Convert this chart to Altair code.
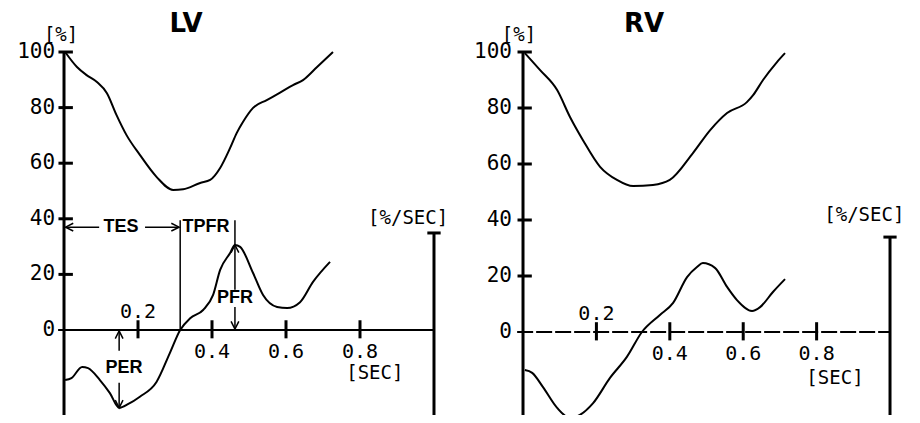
import altair as alt
import pandas as pd

# ---------------- data ----------------
# LV: volume curve [%] and rate curve [%/SEC] vs time [SEC]
lv_vol_t = [0.003, 0.035, 0.061, 0.089, 0.116, 0.142, 0.169, 0.205, 0.25, 0.295, 0.322, 0.368,
            0.395, 0.422, 0.449, 0.467, 0.484, 0.511, 0.548, 0.584, 0.619, 0.646, 0.684, 0.727]
lv_vol_v = [100, 94.6, 91.7, 89.2, 85.2, 77.3, 70.1, 63, 55.1, 50.4, 50.6, 52.9,
            54, 58.3, 65.5, 70.9, 74.9, 79.9, 82.7, 85.4, 88.1, 89.9, 94.6, 100]
lv_rate_t = [0.003, 0.02, 0.049, 0.065, 0.097, 0.124, 0.149, 0.174, 0.205, 0.25, 0.286, 0.314, 0.341,
             0.376, 0.403, 0.422, 0.449, 0.462, 0.476, 0.511, 0.538, 0.576, 0.603, 0.638, 0.673, 0.719]
lv_rate_v = [-18, -17.3, -13.3, -13.7, -18, -22.7, -28, -26.6, -24, -18.7, -8.3, 0, 4.2,
             7.2, 12.6, 21.6, 27.7, 30.6, 29.9, 20.5, 12.6, 8.3, 7.9, 10, 17.3, 24.5]

# RV
rv_vol_t = [0.005, 0.046, 0.093, 0.128, 0.163, 0.21, 0.256, 0.3, 0.354, 0.4, 0.463, 0.51,
            0.556, 0.61, 0.627, 0.654, 0.692, 0.714]
rv_vol_v = [99.6, 93.6, 86.4, 76.8, 68.6, 59, 54.3, 52.1, 52.5, 54.3, 63.9, 72.1,
            78.2, 82.1, 84.6, 90, 96.4, 99.6]
rv_rate_t = [0.005, 0.025, 0.054, 0.093, 0.128, 0.155, 0.191, 0.237, 0.283, 0.324, 0.373,
             0.409, 0.447, 0.474, 0.49, 0.523, 0.556, 0.583, 0.624, 0.646, 0.681, 0.714]
rv_rate_v = [-13.6, -14.6, -19.6, -27.1, -30.7, -29.6, -25.4, -16.4, -8.9, 0, 6.1,
             10.4, 19.6, 23.2, 24.6, 22.9, 16.1, 11.4, 7.5, 8.9, 14.3, 18.9]

# axes
y_ticks = [100, 80, 60, 40, 20, 0]
y_labels = ["100", "80", "60", "40", "20", "0"]
x_ticks = [0.2, 0.4, 0.6, 0.8]
x_labels = ["0.2", "0.4", "0.6", "0.8"]

# LV indices
tes = 0.314        # end-systole time
tpfr = 0.462       # time of peak filling rate
pfr = 30.6         # peak filling rate
per_t = 0.149      # time of peak ejection rate
per = -28.0        # peak ejection rate

MONO = "DejaVu Sans Mono"
SANS = "Liberation Sans"


def panel(title, vol_t, vol_v, rate_t, rate_v, xdom, ydom, lab_dt, ax_bottom, bar_top,
          bar_bottom, dashed, units, annotate):
    xs = alt.Scale(domain=xdom, nice=False, zero=False)
    ys = alt.Scale(domain=ydom, nice=False, zero=False)
    X = alt.X("t:Q", scale=xs, axis=None)
    Y = alt.Y("v:Q", scale=ys, axis=None)

    curves = pd.DataFrame({
        "t": vol_t + rate_t,
        "v": vol_v + rate_v,
        "s": ["vol"] * len(vol_t) + ["rate"] * len(rate_t),
        "i": list(range(len(vol_t))) + list(range(len(rate_t))),
    })
    lines = alt.Chart(curves).mark_line(color="black", strokeWidth=2, clip=True,
                                        interpolate="monotone").encode(
        x=X, y=Y, detail="s:N", order="i:Q")

    # thick axis pieces
    segs = [(0, 0, ax_bottom, 100), (-0.015, 0.015, ax_bottom, ax_bottom)]
    for yt in y_ticks[:-1]:
        segs.append((-0.015, 0.024, yt, yt))
    for xt in x_ticks:
        segs.append((xt, xt, -3.0, 3.5))
    segs += [(1, 1, bar_bottom, bar_top), (0.982, 1.018, bar_top, bar_top),
             (0.982, 1.018, bar_bottom, bar_bottom)]
    sdf = pd.DataFrame(segs, columns=["t", "t2", "v", "v2"])
    thick = alt.Chart(sdf).mark_rule(color="black", strokeWidth=3, clip=True).encode(
        x=X, x2="t2:Q", y=Y, y2="v2:Q")

    xaxis_df = pd.DataFrame({"t": [-0.016], "t2": [1.0], "v": [0.0]})
    xa_kw = dict(color="black", strokeWidth=2, clip=True)
    if dashed:
        xa_kw["strokeDash"] = [16, 3]
    xaxis = alt.Chart(xaxis_df).mark_rule(**xa_kw).encode(x=X, x2="t2:Q", y=Y)

    ylab = pd.DataFrame({"t": [lab_dt] * len(y_ticks), "v": y_ticks, "txt": y_labels})
    ytext = alt.Chart(ylab).mark_text(font=MONO, fontSize=21, align="right", baseline="middle",
                                      color="black").encode(x=X, y=Y, text="txt:N")

    xlab = pd.DataFrame({"t": x_ticks, "v": [6.6] + [-7.9] * (len(x_ticks) - 1), "txt": x_labels})
    xtext = alt.Chart(xlab).mark_text(font=MONO, fontSize=20, align="center", baseline="middle",
                                      color="black").encode(x=X, y=Y, text="txt:N")

    udf = pd.DataFrame(units, columns=["t", "v", "txt"])
    utext = alt.Chart(udf).mark_text(font=MONO, fontSize=19, align="center", baseline="middle",
                                     color="black").encode(x=X, y=Y, text="txt:N")

    tdf = pd.DataFrame({"t": [0.33], "v": [110.0], "txt": [title]})
    ttext = alt.Chart(tdf).mark_text(font="DejaVu Sans", fontWeight="bold", fontSize=26,
                                     align="center", baseline="middle", color="black").encode(
        x=X, y=Y, text="txt:N")

    layers = [lines, thick, xaxis, ytext, xtext, utext, ttext]

    if annotate:
        a_segs = pd.DataFrame([
            (0.005, 0.095, 37.0, 37.0),
            (0.219, tes - 0.004, 37.0, 37.0),
            (tes, tes, 0.0, 39.5),
            (tpfr, tpfr, 14.5, 39.5),
            (tpfr, tpfr, 0.3, 8.3),
            (per_t, per_t, -0.3, -7.5),
            (per_t, per_t, -19.0, per + 0.2),
        ], columns=["t", "t2", "v", "v2"])
        thin = alt.Chart(a_segs).mark_rule(color="black", strokeWidth=1.5).encode(
            x=X, x2="t2:Q", y=Y, y2="v2:Q")
        heads = pd.DataFrame([
            (0.004, 37.0, 180), (tes - 0.003, 37.0, 0),
            (tpfr, pfr, 270), (tpfr, 0.3, 90),
            (per_t, -0.3, 270), (per_t, per, 90),
        ], columns=["t", "v", "a"])
        arrows = alt.Chart(heads).mark_point(
            shape="M-1,-0.5L0,0L-1,0.5", filled=False, color="black", strokeWidth=1.5,
            size=240, opacity=1).encode(x=X, y=Y, angle=alt.Angle("a:Q", scale=None))
        lab = pd.DataFrame([
            (0.154, 37.0, "TES"), (0.384, 37.0, "TPFR"),
            (tpfr, 11.5, "PFR"), (0.162, -13.7, "PER"),
        ], columns=["t", "v", "txt"])
        atext = alt.Chart(lab).mark_text(font=SANS, fontSize=18, fontWeight="bold",
                                         align="center", baseline="middle",
                                         color="black").encode(x=X, y=Y, text="txt:N")
        layers += [thin, arrows, atext]

    return alt.layer(*layers).properties(width=452, height=407)


lv = panel("LV", lv_vol_t, lv_vol_v, lv_rate_t, lv_rate_v,
           xdom=[-0.1514, 1.0703], ydom=[-30.58, 115.83], lab_dt=-0.024,
           ax_bottom=-32.4, bar_top=34.9, bar_bottom=-31.7, dashed=False,
           units=[(-0.008, 106.1, "[%]"), (0.93, 40.3, "[%/SEC]"), (0.84, -15.5, "[SEC]")],
           annotate=True)

rv = panel("RV", rv_vol_t, rv_vol_v, rv_rate_t, rv_rate_v,
           xdom=[-0.1717, 1.0599], ydom=[-29.64, 115.71], lab_dt=-0.03,
           ax_bottom=-31.4, bar_top=33.9, bar_bottom=-33.0, dashed=True,
           units=[(-0.011, 106.0, "[%]"), (0.93, 41.8, "[%/SEC]"), (0.85, -16.4, "[SEC]")],
           annotate=False)

chart = alt.hconcat(lv, rv, spacing=0, bounds="flush").properties(
    padding=0, background="white"
).configure_view(stroke=None)

chart.save("out.html", embed_options={"renderer": "svg", "actions": False})
